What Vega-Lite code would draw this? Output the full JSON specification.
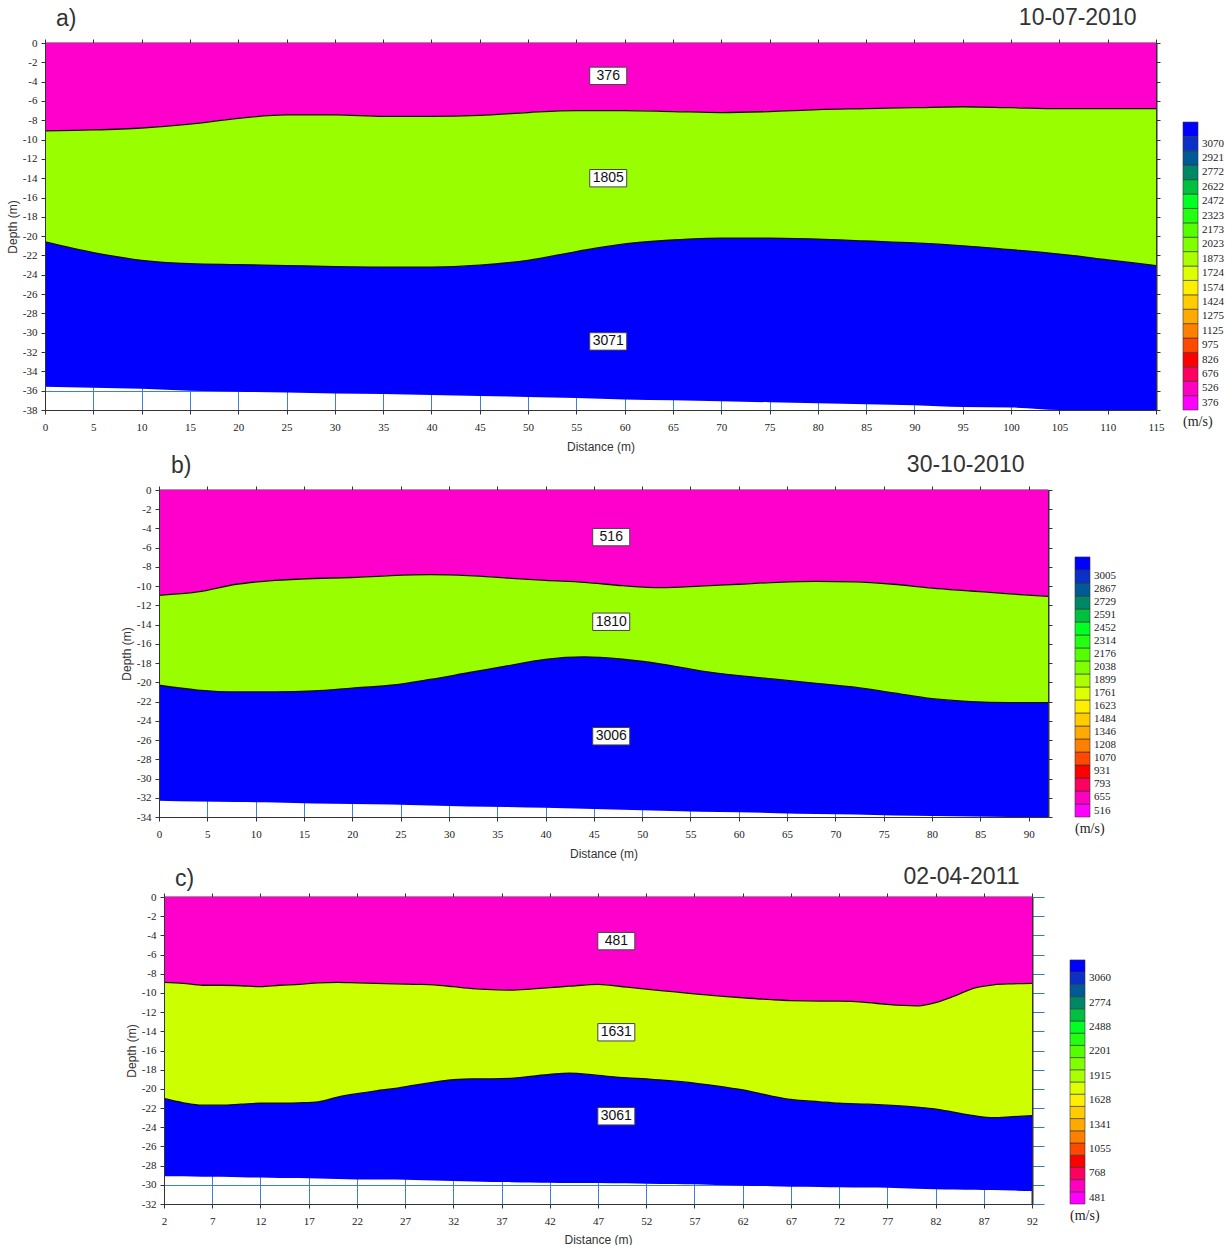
{
  "$schema": "https://vega.github.io/schema/vega-lite/v6.json",
  "background": "white",
  "padding": {"left": 6, "top": 6, "right": 5, "bottom": 0},
  "datasets": {
    "pa": [
      {"x":0,"b1":-9.1,"b2":-20.6,"b3":-35.6},
      {"x":5,"b1":-9.0,"b2":-21.7,"b3":-35.7},
      {"x":10,"b1":-8.8,"b2":-22.5,"b3":-35.8},
      {"x":15,"b1":-8.4,"b2":-22.85,"b3":-36.0},
      {"x":20,"b1":-7.8,"b2":-22.95,"b3":-36.1},
      {"x":25,"b1":-7.45,"b2":-23.05,"b3":-36.2},
      {"x":30,"b1":-7.45,"b2":-23.15,"b3":-36.3},
      {"x":35,"b1":-7.6,"b2":-23.2,"b3":-36.35},
      {"x":40,"b1":-7.6,"b2":-23.2,"b3":-36.45},
      {"x":45,"b1":-7.5,"b2":-23.0,"b3":-36.55},
      {"x":50,"b1":-7.2,"b2":-22.5,"b3":-36.65},
      {"x":55,"b1":-7.0,"b2":-21.6,"b3":-36.75},
      {"x":60,"b1":-7.0,"b2":-20.8,"b3":-36.9},
      {"x":65,"b1":-7.1,"b2":-20.4,"b3":-37.0},
      {"x":70,"b1":-7.2,"b2":-20.2,"b3":-37.1},
      {"x":75,"b1":-7.1,"b2":-20.2,"b3":-37.2},
      {"x":80,"b1":-6.9,"b2":-20.3,"b3":-37.3},
      {"x":85,"b1":-6.8,"b2":-20.5,"b3":-37.4},
      {"x":90,"b1":-6.7,"b2":-20.7,"b3":-37.5},
      {"x":95,"b1":-6.6,"b2":-21.0,"b3":-37.7},
      {"x":100,"b1":-6.7,"b2":-21.4,"b3":-37.75},
      {"x":105,"b1":-6.8,"b2":-21.85,"b3":-38.0},
      {"x":110,"b1":-6.8,"b2":-22.45,"b3":-38.0},
      {"x":115,"b1":-6.8,"b2":-23.05,"b3":-38.0}
    ],
    "pb": [
      {"x":0,"b1":-10.95,"b2":-20.3,"b3":-32.3},
      {"x":4,"b1":-10.6,"b2":-20.8,"b3":-32.4},
      {"x":8,"b1":-9.8,"b2":-21.0,"b3":-32.45},
      {"x":12,"b1":-9.4,"b2":-21.0,"b3":-32.5},
      {"x":16,"b1":-9.2,"b2":-20.9,"b3":-32.6},
      {"x":20,"b1":-9.1,"b2":-20.6,"b3":-32.65},
      {"x":24,"b1":-8.9,"b2":-20.3,"b3":-32.7},
      {"x":28,"b1":-8.8,"b2":-19.7,"b3":-32.8},
      {"x":32,"b1":-8.9,"b2":-19.0,"b3":-32.9},
      {"x":36,"b1":-9.15,"b2":-18.3,"b3":-32.95},
      {"x":40,"b1":-9.4,"b2":-17.6,"b3":-33.05},
      {"x":44,"b1":-9.6,"b2":-17.35,"b3":-33.15},
      {"x":48,"b1":-9.95,"b2":-17.6,"b3":-33.25},
      {"x":52,"b1":-10.15,"b2":-18.1,"b3":-33.35},
      {"x":56,"b1":-10.0,"b2":-18.8,"b3":-33.45},
      {"x":60,"b1":-9.8,"b2":-19.3,"b3":-33.5},
      {"x":64,"b1":-9.6,"b2":-19.7,"b3":-33.6},
      {"x":68,"b1":-9.5,"b2":-20.1,"b3":-33.7},
      {"x":72,"b1":-9.55,"b2":-20.5,"b3":-33.75},
      {"x":76,"b1":-9.8,"b2":-21.1,"b3":-33.85},
      {"x":80,"b1":-10.2,"b2":-21.7,"b3":-33.9},
      {"x":84,"b1":-10.5,"b2":-22.0,"b3":-33.95},
      {"x":88,"b1":-10.8,"b2":-22.1,"b3":-34.0},
      {"x":92,"b1":-11.05,"b2":-22.1,"b3":-34.0}
    ],
    "pc": [
      {"x":2,"b1":-8.9,"b2":-21.0,"b3":-29.1},
      {"x":4,"b1":-9.0,"b2":-21.45,"b3":-29.1},
      {"x":6,"b1":-9.2,"b2":-21.7,"b3":-29.15},
      {"x":8,"b1":-9.2,"b2":-21.7,"b3":-29.15},
      {"x":10,"b1":-9.25,"b2":-21.6,"b3":-29.2},
      {"x":12,"b1":-9.35,"b2":-21.5,"b3":-29.25},
      {"x":14,"b1":-9.2,"b2":-21.5,"b3":-29.3},
      {"x":16,"b1":-9.1,"b2":-21.45,"b3":-29.3},
      {"x":18,"b1":-8.95,"b2":-21.35,"b3":-29.35},
      {"x":20,"b1":-8.9,"b2":-20.85,"b3":-29.4},
      {"x":22,"b1":-8.95,"b2":-20.5,"b3":-29.45},
      {"x":24,"b1":-9.0,"b2":-20.2,"b3":-29.45},
      {"x":26,"b1":-9.05,"b2":-19.95,"b3":-29.45},
      {"x":28,"b1":-9.1,"b2":-19.6,"b3":-29.5},
      {"x":30,"b1":-9.15,"b2":-19.3,"b3":-29.55},
      {"x":32,"b1":-9.35,"b2":-19.05,"b3":-29.6},
      {"x":34,"b1":-9.55,"b2":-18.95,"b3":-29.65},
      {"x":36,"b1":-9.65,"b2":-18.95,"b3":-29.7},
      {"x":38,"b1":-9.7,"b2":-18.9,"b3":-29.72},
      {"x":40,"b1":-9.6,"b2":-18.7,"b3":-29.75},
      {"x":42,"b1":-9.45,"b2":-18.5,"b3":-29.78},
      {"x":44,"b1":-9.3,"b2":-18.35,"b3":-29.8},
      {"x":47,"b1":-9.1,"b2":-18.6,"b3":-29.8},
      {"x":50,"b1":-9.4,"b2":-18.85,"b3":-29.85},
      {"x":52,"b1":-9.6,"b2":-18.95,"b3":-29.88},
      {"x":55,"b1":-9.9,"b2":-19.2,"b3":-29.92},
      {"x":57,"b1":-10.1,"b2":-19.4,"b3":-29.95},
      {"x":60,"b1":-10.35,"b2":-19.8,"b3":-30.05},
      {"x":62,"b1":-10.5,"b2":-20.1,"b3":-30.1},
      {"x":65,"b1":-10.7,"b2":-20.75,"b3":-30.15},
      {"x":67,"b1":-10.8,"b2":-21.1,"b3":-30.2},
      {"x":70,"b1":-10.85,"b2":-21.35,"b3":-30.22},
      {"x":72,"b1":-10.85,"b2":-21.5,"b3":-30.25},
      {"x":75,"b1":-11.0,"b2":-21.6,"b3":-30.28},
      {"x":77,"b1":-11.2,"b2":-21.7,"b3":-30.3},
      {"x":80,"b1":-11.35,"b2":-21.9,"b3":-30.4},
      {"x":82,"b1":-11.0,"b2":-22.1,"b3":-30.45},
      {"x":84,"b1":-10.3,"b2":-22.45,"b3":-30.48},
      {"x":86,"b1":-9.5,"b2":-22.8,"b3":-30.52},
      {"x":88,"b1":-9.15,"b2":-23.0,"b3":-30.55},
      {"x":90,"b1":-9.05,"b2":-22.9,"b3":-30.6},
      {"x":92,"b1":-9.0,"b2":-22.8,"b3":-30.65}
    ],
    "la": [
      {"x":58.3,"y":-3.4,"v":"376"},
      {"x":58.3,"y":-14.0,"v":"1805"},
      {"x":58.3,"y":-30.9,"v":"3071"}
    ],
    "lb": [
      {"x":46.8,"y":-4.9,"v":"516"},
      {"x":46.8,"y":-13.7,"v":"1810"},
      {"x":46.8,"y":-25.6,"v":"3006"}
    ],
    "lc": [
      {"x":48.9,"y":-4.6,"v":"481"},
      {"x":48.9,"y":-14.1,"v":"1631"},
      {"x":48.9,"y":-22.85,"v":"3061"}
    ],
    "ga": [
      {"lo":0,"hi":1,"lab":"376"},{"lo":1,"hi":2,"lab":"526"},{"lo":2,"hi":3,"lab":"676"},{"lo":3,"hi":4,"lab":"826"},
      {"lo":4,"hi":5,"lab":"975"},{"lo":5,"hi":6,"lab":"1125"},{"lo":6,"hi":7,"lab":"1275"},{"lo":7,"hi":8,"lab":"1424"},
      {"lo":8,"hi":9,"lab":"1574"},{"lo":9,"hi":10,"lab":"1724"},{"lo":10,"hi":11,"lab":"1873"},{"lo":11,"hi":12,"lab":"2023"},
      {"lo":12,"hi":13,"lab":"2173"},{"lo":13,"hi":14,"lab":"2323"},{"lo":14,"hi":15,"lab":"2472"},{"lo":15,"hi":16,"lab":"2622"},
      {"lo":16,"hi":17,"lab":"2772"},{"lo":17,"hi":18,"lab":"2921"},{"lo":18,"hi":19,"lab":"3070"},{"lo":19,"hi":20,"lab":""}
    ],
    "gb": [
      {"lo":0,"hi":1,"lab":"516"},{"lo":1,"hi":2,"lab":"655"},{"lo":2,"hi":3,"lab":"793"},{"lo":3,"hi":4,"lab":"931"},
      {"lo":4,"hi":5,"lab":"1070"},{"lo":5,"hi":6,"lab":"1208"},{"lo":6,"hi":7,"lab":"1346"},{"lo":7,"hi":8,"lab":"1484"},
      {"lo":8,"hi":9,"lab":"1623"},{"lo":9,"hi":10,"lab":"1761"},{"lo":10,"hi":11,"lab":"1899"},{"lo":11,"hi":12,"lab":"2038"},
      {"lo":12,"hi":13,"lab":"2176"},{"lo":13,"hi":14,"lab":"2314"},{"lo":14,"hi":15,"lab":"2452"},{"lo":15,"hi":16,"lab":"2591"},
      {"lo":16,"hi":17,"lab":"2729"},{"lo":17,"hi":18,"lab":"2867"},{"lo":18,"hi":19,"lab":"3005"},{"lo":19,"hi":20,"lab":""}
    ],
    "gc": [
      {"lo":0,"hi":1,"lab":"481"},{"lo":1,"hi":2,"lab":""},{"lo":2,"hi":3,"lab":"768"},{"lo":3,"hi":4,"lab":""},
      {"lo":4,"hi":5,"lab":"1055"},{"lo":5,"hi":6,"lab":""},{"lo":6,"hi":7,"lab":"1341"},{"lo":7,"hi":8,"lab":""},
      {"lo":8,"hi":9,"lab":"1628"},{"lo":9,"hi":10,"lab":""},{"lo":10,"hi":11,"lab":"1915"},{"lo":11,"hi":12,"lab":""},
      {"lo":12,"hi":13,"lab":"2201"},{"lo":13,"hi":14,"lab":""},{"lo":14,"hi":15,"lab":"2488"},{"lo":15,"hi":16,"lab":""},
      {"lo":16,"hi":17,"lab":"2774"},{"lo":17,"hi":18,"lab":""},{"lo":18,"hi":19,"lab":"3060"},{"lo":19,"hi":20,"lab":""}
    ],
    "sp": [{"s": 1}]
  },
  "spacing": 1,
  "resolve": {"scale": {"x": "independent", "y": "independent", "color": "independent"}},
  "vconcat": [
    {
      "hconcat": [
        {
          "width": 1111, "height": 367,
          "title": {"text": "a)", "anchor": "start", "frame": "group", "dx": 11, "dy": 24, "offset": -23, "baseline": "bottom", "font": "Liberation Sans", "fontSize": 23, "fontWeight": "normal", "color": "#333"},
          "layer": [
            {"data": {"name": "pa"}, "mark": {"type": "area", "color": "#ff00cc", "interpolate": "monotone"},
             "encoding": {
               "x": {"field": "x", "type": "quantitative", "scale": {"domain": [0, 115], "nice": false, "zero": false},
                     "axis": {"orient": "bottom", "title": "Distance (m)", "values": [0,5,10,15,20,25,30,35,40,45,50,55,60,65,70,75,80,85,90,95,100,105,110,115], "grid": false, "labelPadding": 7, "titlePadding": 9, "labelFlush": false, "labelOverlap": false, "zindex": 1}},
               "y": {"field": "b1", "type": "quantitative", "scale": {"domain": [-38, 0], "nice": false, "zero": false},
                     "axis": {"orient": "left", "title": "Depth (m)", "values": [0,-2,-4,-6,-8,-10,-12,-14,-16,-18,-20,-22,-24,-26,-28,-30,-32,-34,-36,-38], "grid": false, "labelPadding": 4, "titlePadding": 3, "labelOverlap": false, "labelExpr": "replace(datum.label, '\u2212', '-')", "zindex": 1}},
               "y2": {"datum": 0}
             }},
            {"data": {"name": "pa"}, "mark": {"type": "area", "color": "#99ff00", "interpolate": "monotone"},
             "encoding": {
               "x": {"field": "x", "type": "quantitative",
                     "axis": {"orient": "top", "title": "10-07-2010", "titleFontSize": 23, "titleX": 1091, "titleAlign": "right", "titlePadding": 9, "values": [0,5,10,15,20,25,30,35,40,45,50,55,60,65,70,75,80,85,90,95,100,105,110,115], "labels": false, "grid": true, "gridColor": "#3b82d4", "domainWidth": 2, "zindex": 0}},
               "y": {"field": "b2", "type": "quantitative",
                     "axis": {"orient": "right", "title": null, "values": [0,-2,-4,-6,-8,-10,-12,-14,-16,-18,-20,-22,-24,-26,-28,-30,-32,-34,-36,-38], "labels": false, "grid": true, "gridColor": "#3b82d4", "domainWidth": 2, "zindex": 0}},
               "y2": {"field": "b1"}
             }},
            {"data": {"name": "pa"}, "mark": {"type": "area", "color": "#0000ff", "interpolate": "monotone"},
             "encoding": {"x": {"field": "x", "type": "quantitative", "axis": null}, "y": {"field": "b3", "type": "quantitative", "axis": null}, "y2": {"field": "b2"}}},
            {"data": {"name": "pa"}, "mark": {"type": "line", "color": "#111", "strokeWidth": 1.3, "interpolate": "monotone"},
             "encoding": {"x": {"field": "x", "type": "quantitative", "axis": null}, "y": {"field": "b1", "type": "quantitative", "axis": null}}},
            {"data": {"name": "pa"}, "mark": {"type": "line", "color": "#111", "strokeWidth": 1.3, "interpolate": "monotone"},
             "encoding": {"x": {"field": "x", "type": "quantitative", "axis": null}, "y": {"field": "b2", "type": "quantitative", "axis": null}}},
            {"data": {"name": "la"}, "mark": {"type": "point", "shape": "M-1,-0.47L1,-0.47L1,0.47L-1,0.47Z", "size": 1369, "filled": true, "fill": "white", "stroke": "#444", "strokeWidth": 1, "opacity": 1},
             "encoding": {"x": {"field": "x", "type": "quantitative", "axis": null}, "y": {"field": "y", "type": "quantitative", "axis": null}}},
            {"data": {"name": "la"}, "mark": {"type": "text", "font": "Liberation Sans", "fontSize": 14, "color": "#111", "baseline": "middle"},
             "encoding": {"x": {"field": "x", "type": "quantitative", "axis": null}, "y": {"field": "y", "type": "quantitative", "axis": null}, "text": {"field": "v"}}}
          ],
          "resolve": {"axis": {"x": "independent", "y": "independent"}}
        },
        {
          "width": 15, "height": 367,
          "data": {"name": "ga"},
          "title": {"text": "(m/s)", "orient": "bottom", "anchor": "start", "frame": "group", "offset": 5, "font": "Liberation Serif", "fontSize": 14, "fontWeight": "normal", "color": "#222"},
          "layer": [
            {"mark": {"type": "rect", "stroke": "#333", "strokeWidth": 0.6},
             "encoding": {
               "x": {"datum": 0, "type": "quantitative", "scale": {"domain": [0, 1]}, "axis": null},
               "x2": {"datum": 1},
               "y": {"field": "lo", "type": "quantitative", "scale": {"domain": [0, 25.49], "nice": false, "zero": false}, "axis": null},
               "y2": {"field": "hi"},
               "color": {"field": "hi", "type": "ordinal", "scale": {"domain": [1,2,3,4,5,6,7,8,9,10,11,12,13,14,15,16,17,18,19,20], "range": ["#ff00ff","#ff00c0","#ff0060","#ff0000","#ff4800","#ff8000","#ffaa00","#ffcc00","#ffee00","#ddff00","#aaff00","#80ff00","#55ff00","#22ff11","#00ff22","#00c040","#008866","#005a96","#0a30c8","#0000ff"]}, "legend": null}
             }},
            {"mark": {"type": "text", "align": "left", "baseline": "middle", "dx": 4, "dy": -7.2, "font": "Liberation Serif", "fontSize": 11, "color": "#222"},
             "encoding": {"x": {"datum": 1, "type": "quantitative"}, "y": {"field": "lo", "type": "quantitative"}, "text": {"field": "lab"}}}
          ]
        }
      ],
      "spacing": 27,
      "bounds": "flush",
      "resolve": {"scale": {"x": "independent", "y": "independent", "color": "independent"}}
    },
    {
      "spacing": 6,
      "resolve": {"scale": {"x": "independent", "y": "independent", "color": "independent"}},
      "vconcat": [
        {
          "hconcat": [
            {"width": 87, "height": 10, "data": {"name": "sp"}, "mark": {"type": "rect", "fill": "#ffffff", "fillOpacity": 0, "strokeOpacity": 0},
             "encoding": {
               "x": {"datum": 0, "type": "quantitative", "scale": {"domain": [0, 1]}, "axis": null},
               "x2": {"datum": 1},
               "y": {"datum": 0, "type": "quantitative", "scale": {"domain": [0, 1]}, "axis": null},
               "y2": {"datum": 1}
             }},
            {
              "width": 889, "height": 327,
              "title": {"text": "b)", "anchor": "start", "frame": "group", "dx": 12, "dy": 24, "offset": -23, "baseline": "bottom", "font": "Liberation Sans", "fontSize": 23, "fontWeight": "normal", "color": "#333"},
              "layer": [
                {"data": {"name": "pb"}, "mark": {"type": "area", "color": "#ff00cc", "interpolate": "monotone"},
                 "encoding": {
                   "x": {"field": "x", "type": "quantitative", "scale": {"domain": [0, 92], "nice": false, "zero": false},
                         "axis": {"orient": "bottom", "title": "Distance (m)", "values": [0,5,10,15,20,25,30,35,40,45,50,55,60,65,70,75,80,85,90], "grid": false, "labelPadding": 7, "titlePadding": 9, "labelFlush": false, "labelOverlap": false, "zindex": 1}},
                   "y": {"field": "b1", "type": "quantitative", "scale": {"domain": [-34, 0], "nice": false, "zero": false},
                         "axis": {"orient": "left", "title": "Depth (m)", "values": [0,-2,-4,-6,-8,-10,-12,-14,-16,-18,-20,-22,-24,-26,-28,-30,-32,-34], "grid": false, "labelPadding": 4, "titlePadding": 3, "labelOverlap": false, "labelExpr": "replace(datum.label, '\u2212', '-')", "zindex": 1}},
                   "y2": {"datum": 0}
                 }},
                {"data": {"name": "pb"}, "mark": {"type": "area", "color": "#99ff00", "interpolate": "monotone"},
                 "encoding": {
                   "x": {"field": "x", "type": "quantitative",
                         "axis": {"orient": "top", "title": "30-10-2010", "titleFontSize": 23, "titleX": 865, "titleAlign": "right", "titlePadding": 9, "values": [0,5,10,15,20,25,30,35,40,45,50,55,60,65,70,75,80,85,90], "labels": false, "grid": true, "gridColor": "#3b82d4", "domainWidth": 2, "zindex": 0}},
                   "y": {"field": "b2", "type": "quantitative",
                         "axis": {"orient": "right", "title": null, "values": [0,-2,-4,-6,-8,-10,-12,-14,-16,-18,-20,-22,-24,-26,-28,-30,-32,-34], "labels": false, "grid": true, "gridColor": "#3b82d4", "domainWidth": 2, "zindex": 0}},
                   "y2": {"field": "b1"}
                 }},
                {"data": {"name": "pb"}, "mark": {"type": "area", "color": "#0000ff", "interpolate": "monotone"},
                 "encoding": {"x": {"field": "x", "type": "quantitative", "axis": null}, "y": {"field": "b3", "type": "quantitative", "axis": null}, "y2": {"field": "b2"}}},
                {"data": {"name": "pb"}, "mark": {"type": "line", "color": "#111", "strokeWidth": 1.3, "interpolate": "monotone"},
                 "encoding": {"x": {"field": "x", "type": "quantitative", "axis": null}, "y": {"field": "b1", "type": "quantitative", "axis": null}}},
                {"data": {"name": "pb"}, "mark": {"type": "line", "color": "#111", "strokeWidth": 1.3, "interpolate": "monotone"},
                 "encoding": {"x": {"field": "x", "type": "quantitative", "axis": null}, "y": {"field": "b2", "type": "quantitative", "axis": null}}},
                {"data": {"name": "lb"}, "mark": {"type": "point", "shape": "M-1,-0.47L1,-0.47L1,0.47L-1,0.47Z", "size": 1369, "filled": true, "fill": "white", "stroke": "#444", "strokeWidth": 1, "opacity": 1},
                 "encoding": {"x": {"field": "x", "type": "quantitative", "axis": null}, "y": {"field": "y", "type": "quantitative", "axis": null}}},
                {"data": {"name": "lb"}, "mark": {"type": "text", "font": "Liberation Sans", "fontSize": 14, "color": "#111", "baseline": "middle"},
                 "encoding": {"x": {"field": "x", "type": "quantitative", "axis": null}, "y": {"field": "y", "type": "quantitative", "axis": null}, "text": {"field": "v"}}}
              ],
              "resolve": {"axis": {"x": "independent", "y": "independent"}}
            },
            {
              "width": 15, "height": 327,
              "data": {"name": "gb"},
              "title": {"text": "(m/s)", "orient": "bottom", "anchor": "start", "frame": "group", "offset": 5, "font": "Liberation Serif", "fontSize": 14, "fontWeight": "normal", "color": "#222"},
              "layer": [
                {"mark": {"type": "rect", "stroke": "#333", "strokeWidth": 0.6},
                 "encoding": {
                   "x": {"datum": 0, "type": "quantitative", "scale": {"domain": [0, 1]}, "axis": null},
                   "x2": {"datum": 1},
                   "y": {"field": "lo", "type": "quantitative", "scale": {"domain": [0, 25.15], "nice": false, "zero": false}, "axis": null},
                   "y2": {"field": "hi"},
                   "color": {"field": "hi", "type": "ordinal", "scale": {"domain": [1,2,3,4,5,6,7,8,9,10,11,12,13,14,15,16,17,18,19,20], "range": ["#ff00ff","#ff00c0","#ff0060","#ff0000","#ff4800","#ff8000","#ffaa00","#ffcc00","#ffee00","#ddff00","#aaff00","#80ff00","#55ff00","#22ff11","#00ff22","#00c040","#008866","#005a96","#0a30c8","#0000ff"]}, "legend": null}
                 }},
                {"mark": {"type": "text", "align": "left", "baseline": "middle", "dx": 4, "dy": -6.5, "font": "Liberation Serif", "fontSize": 11, "color": "#222"},
                 "encoding": {"x": {"datum": 1, "type": "quantitative"}, "y": {"field": "lo", "type": "quantitative"}, "text": {"field": "lab"}}}
              ]
            }
          ],
          "spacing": 27,
          "bounds": "flush",
          "resolve": {"scale": {"x": "independent", "y": "independent", "color": "independent"}}
        },
        {
          "hconcat": [
            {"width": 81, "height": 10, "data": {"name": "sp"}, "mark": {"type": "rect", "fill": "#ffffff", "fillOpacity": 0, "strokeOpacity": 0},
             "encoding": {
               "x": {"datum": 0, "type": "quantitative", "scale": {"domain": [0, 1]}, "axis": null},
               "x2": {"datum": 1},
               "y": {"datum": 0, "type": "quantitative", "scale": {"domain": [0, 1]}, "axis": null},
               "y2": {"datum": 1}
             }},
            {
              "width": 868, "height": 307,
              "title": {"text": "c)", "anchor": "start", "frame": "group", "dx": 11, "dy": 25, "offset": -23, "baseline": "bottom", "font": "Liberation Sans", "fontSize": 23, "fontWeight": "normal", "color": "#333"},
              "layer": [
                {"data": {"name": "pc"}, "mark": {"type": "area", "color": "#ff00cc", "interpolate": "monotone"},
                 "encoding": {
                   "x": {"field": "x", "type": "quantitative", "scale": {"domain": [2, 92], "nice": false, "zero": false},
                         "axis": {"orient": "bottom", "title": "Distance (m)", "values": [2,7,12,17,22,27,32,37,42,47,52,57,62,67,72,77,82,87,92], "grid": false, "labelPadding": 7, "titlePadding": 8, "labelFlush": false, "labelOverlap": false, "zindex": 1}},
                   "y": {"field": "b1", "type": "quantitative", "scale": {"domain": [-32, 0], "nice": false, "zero": false},
                         "axis": {"orient": "left", "title": "Depth (m)", "values": [0,-2,-4,-6,-8,-10,-12,-14,-16,-18,-20,-22,-24,-26,-28,-30,-32], "grid": false, "labelPadding": 4, "titlePadding": 3, "labelOverlap": false, "labelExpr": "replace(datum.label, '\u2212', '-')", "zindex": 1}},
                   "y2": {"datum": 0}
                 }},
                {"data": {"name": "pc"}, "mark": {"type": "area", "color": "#ccff00", "interpolate": "monotone"},
                 "encoding": {
                   "x": {"field": "x", "type": "quantitative",
                         "axis": {"orient": "top", "title": "02-04-2011", "titleFontSize": 23, "titleX": 855, "titleAlign": "right", "titlePadding": 4, "values": [2,7,12,17,22,27,32,37,42,47,52,57,62,67,72,77,82,87,92], "labels": false, "grid": true, "gridColor": "#3b82d4", "domainWidth": 2, "zindex": 0}},
                   "y": {"field": "b2", "type": "quantitative",
                         "axis": {"orient": "right", "title": null, "values": [0,-2,-4,-6,-8,-10,-12,-14,-16,-18,-20,-22,-24,-26,-28,-30,-32], "labels": false, "grid": true, "gridColor": "#3b82d4", "tickColor": "#3a78c0", "tickSize": 12, "domainWidth": 2, "zindex": 0}},
                   "y2": {"field": "b1"}
                 }},
                {"data": {"name": "pc"}, "mark": {"type": "area", "color": "#0000ff", "interpolate": "monotone"},
                 "encoding": {"x": {"field": "x", "type": "quantitative", "axis": null}, "y": {"field": "b3", "type": "quantitative", "axis": null}, "y2": {"field": "b2"}}},
                {"data": {"name": "pc"}, "mark": {"type": "line", "color": "#111", "strokeWidth": 1.3, "interpolate": "monotone"},
                 "encoding": {"x": {"field": "x", "type": "quantitative", "axis": null}, "y": {"field": "b1", "type": "quantitative", "axis": null}}},
                {"data": {"name": "pc"}, "mark": {"type": "line", "color": "#111", "strokeWidth": 1.3, "interpolate": "monotone"},
                 "encoding": {"x": {"field": "x", "type": "quantitative", "axis": null}, "y": {"field": "b2", "type": "quantitative", "axis": null}}},
                {"data": {"name": "lc"}, "mark": {"type": "point", "shape": "M-1,-0.47L1,-0.47L1,0.47L-1,0.47Z", "size": 1369, "filled": true, "fill": "white", "stroke": "#444", "strokeWidth": 1, "opacity": 1},
                 "encoding": {"x": {"field": "x", "type": "quantitative", "axis": null}, "y": {"field": "y", "type": "quantitative", "axis": null}}},
                {"data": {"name": "lc"}, "mark": {"type": "text", "font": "Liberation Sans", "fontSize": 14, "color": "#111", "baseline": "middle"},
                 "encoding": {"x": {"field": "x", "type": "quantitative", "axis": null}, "y": {"field": "y", "type": "quantitative", "axis": null}, "text": {"field": "v"}}}
              ],
              "resolve": {"axis": {"x": "independent", "y": "independent"}}
            },
            {
              "width": 15, "height": 307,
              "data": {"name": "gc"},
              "title": {"text": "(m/s)", "orient": "bottom", "anchor": "start", "frame": "group", "offset": 5, "font": "Liberation Serif", "fontSize": 14, "fontWeight": "normal", "color": "#222"},
              "layer": [
                {"mark": {"type": "rect", "stroke": "#333", "strokeWidth": 0.6},
                 "encoding": {
                   "x": {"datum": 0, "type": "quantitative", "scale": {"domain": [0, 1]}, "axis": null},
                   "x2": {"datum": 1},
                   "y": {"field": "lo", "type": "quantitative", "scale": {"domain": [0, 25.16], "nice": false, "zero": false}, "axis": null},
                   "y2": {"field": "hi"},
                   "color": {"field": "hi", "type": "ordinal", "scale": {"domain": [1,2,3,4,5,6,7,8,9,10,11,12,13,14,15,16,17,18,19,20], "range": ["#ff00ff","#ff00c0","#ff0060","#ff0000","#ff4800","#ff8000","#ffaa00","#ffcc00","#ffee00","#ddff00","#aaff00","#80ff00","#55ff00","#22ff11","#00ff22","#00c040","#008866","#005a96","#0a30c8","#0000ff"]}, "legend": null}
                 }},
                {"mark": {"type": "text", "align": "left", "baseline": "middle", "dx": 4, "dy": -6.1, "font": "Liberation Serif", "fontSize": 11, "color": "#222"},
                 "encoding": {"x": {"datum": 1, "type": "quantitative"}, "y": {"field": "lo", "type": "quantitative"}, "text": {"field": "lab"}}}
              ]
            }
          ],
          "spacing": 38,
          "bounds": "flush",
          "resolve": {"scale": {"x": "independent", "y": "independent", "color": "independent"}}
        }
      ]
    }
  ],
  "config": {
    "view": {"stroke": null},
    "axis": {"labelFont": "Liberation Serif", "labelFontSize": 11, "labelColor": "#222", "titleFont": "Liberation Sans", "titleFontSize": 12, "titleFontWeight": "normal", "titleColor": "#333", "domainColor": "#333", "tickColor": "#333", "tickSize": 4}
  }
}
